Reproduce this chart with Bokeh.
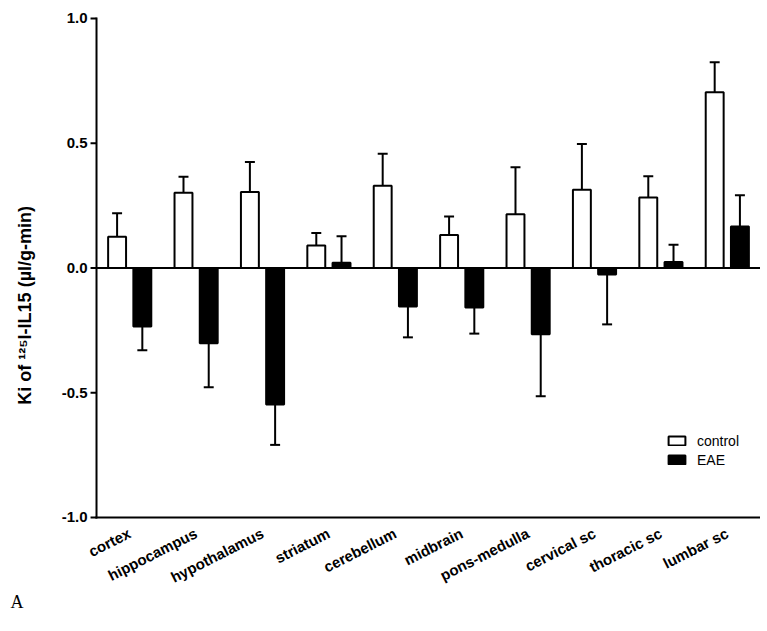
from math import pi
from bokeh.plotting import figure
from bokeh.models import ColumnDataSource, Range1d, Legend, LegendItem
from bokeh.core.properties import value
from bokeh.transform import dodge
from bokeh.embed import file_html
from bokeh.resources import INLINE

regions = ["cortex", "hippocampus", "hypothalamus", "striatum", "cerebellum",
           "midbrain", "pons-medulla", "cervical sc", "thoracic sc", "lumbar sc"]
control_mean = [0.125, 0.302, 0.305, 0.090, 0.330, 0.132, 0.215, 0.314, 0.283, 0.704]
control_err = [0.094, 0.064, 0.120, 0.050, 0.128, 0.074, 0.189, 0.183, 0.085, 0.121]
eae_mean = [-0.235, -0.302, -0.547, 0.021, -0.154, -0.158, -0.266, -0.026, 0.024, 0.166]
eae_err = [0.095, 0.176, 0.162, 0.106, 0.124, 0.105, 0.248, 0.200, 0.069, 0.126]
y_ticks = [-1.0, -0.5, 0.0, 0.5, 1.0]
y_tick_labels = ["-1.0", "-0.5", "0.0", "0.5", "1.0"]
y_min, y_max = -1.0, 1.0
series_labels = ["control", "EAE"]
y_title = "Ki of \u00b9\u00b2\u2075I-IL15 (\u00b5l/g-min)"
panel_letter = "A"


def tip(m, e):
    return [v + (err if v >= 0 else -err) for v, err in zip(m, e)]


n = len(regions)
src = ColumnDataSource(dict(
    region=regions,
    xc=[i + 0.5 for i in range(n)],
    c=control_mean, c_tip=tip(control_mean, control_err),
    e=eae_mean, e_tip=tip(eae_mean, eae_err),
))

FONT = "Liberation Sans"
OFF = 0.19
BW = 0.27
CAP = 0.075
TICK = 0.09          # tick length in category units
AXIS_ROOM = 1.446    # room left of the y axis (tick labels, title, panel letter)
LABEL_ROOM = 0.3968  # room below the x axis (rotated category labels)
TOP_ROOM = 0.04      # room above the top tick label
LABEL_ANGLE = 0.47

p = figure(width=760, height=616,
           x_range=Range1d(-AXIS_ROOM, n),
           y_range=Range1d(y_min - LABEL_ROOM, y_max + TOP_ROOM),
           output_backend="svg", toolbar_location=None,
           min_border_left=0, min_border_top=8, min_border_right=0, min_border_bottom=0)
p.outline_line_color = None
p.xgrid.grid_line_color = None
p.ygrid.grid_line_color = None
p.xaxis.visible = False
p.yaxis.visible = False

# axes lines, zero line, ticks
p.segment(x0=[0, 0, 0], y0=[y_min, y_min, 0], x1=[0, n, n], y1=[y_max, y_min, 0],
          line_color="black", line_width=2, line_cap="square")
p.segment(x0=-TICK, y0=y_ticks, x1=0, y1=y_ticks, line_color="black", line_width=2)
p.text(x=0, y=y_ticks, text=y_tick_labels, x_offset=-9,
       text_align="right", text_baseline="middle",
       text_font=value(FONT), text_font_style="bold", text_font_size="15px",
       text_color="black")

renderers = []
for col, off, fill in (("c", -OFF, "white"), ("e", OFF, "black")):
    p.segment(x0=dodge("xc", off), y0=col, x1=dodge("xc", off), y1=col + "_tip",
              source=src, line_color="black", line_width=2)
    p.segment(x0=dodge("xc", off - CAP), y0=col + "_tip",
              x1=dodge("xc", off + CAP), y1=col + "_tip",
              source=src, line_color="black", line_width=2)
    r = p.vbar(x=dodge("xc", off), top=col, bottom=0, width=BW,
               source=src, fill_color=fill, line_color="black", line_width=2)
    renderers.append(r)

# rotated category labels
p.text(x="xc", y=y_min, text="region", source=src,
       angle=LABEL_ANGLE, text_align="right", text_baseline="top",
       x_offset=-4, y_offset=7,
       text_font=value(FONT), text_font_style="bold", text_font_size="15px",
       text_color="black")

# y axis title
p.text(x=[-1.07], y=[-0.150], text=[y_title], angle=pi / 2,
       text_align="center", text_baseline="middle",
       text_font=value(FONT), text_font_style="bold", text_font_size="18px",
       text_color="black")

# panel letter
p.text(x=[-1.295], y=[-1.34], text=[panel_letter],
       text_align="left", text_baseline="alphabetic",
       text_font=value("Liberation Serif"), text_font_size="18px", text_color="black")

legend = Legend(items=[LegendItem(label=series_labels[0], renderers=[renderers[0]]),
                       LegendItem(label=series_labels[1], renderers=[renderers[1]])],
                location=(666, 148), border_line_color=None, background_fill_alpha=0,
                label_text_font=FONT, label_text_font_size="14px", label_text_color="black",
                glyph_width=21, glyph_height=11, label_height=17, padding=0,
                spacing=2, label_standoff=10, margin=0)
p.add_layout(legend)

open("out.html", "w").write(file_html(p, INLINE))
